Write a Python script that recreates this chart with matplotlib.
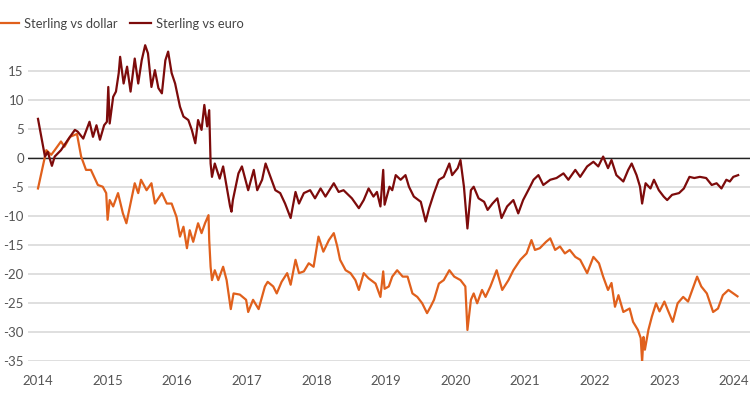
import matplotlib.pyplot as plt

# Sterling performance, % change since start of 2014
euro_year = [2014.00, 2014.10, 2014.14, 2014.20, 2014.24, 2014.33, 2014.38, 2014.43, 2014.53, 2014.57,
             2014.65, 2014.74, 2014.79, 2014.84, 2014.89, 2014.95, 2014.99, 2015.01, 2015.03, 2015.08,
             2015.12, 2015.16, 2015.18, 2015.23, 2015.28, 2015.33, 2015.39, 2015.44, 2015.49, 2015.54,
             2015.58, 2015.63, 2015.68, 2015.73, 2015.78, 2015.83, 2015.87, 2015.92, 2015.97, 2016.04,
             2016.09, 2016.16, 2016.21, 2016.26, 2016.30, 2016.35, 2016.39, 2016.43, 2016.46, 2016.48,
             2016.50, 2016.54, 2016.61, 2016.66, 2016.76, 2016.78, 2016.80, 2016.88, 2016.93, 2017.02,
             2017.10, 2017.15, 2017.22, 2017.27, 2017.34, 2017.41, 2017.48, 2017.55, 2017.63, 2017.70,
             2017.75, 2017.82, 2017.91, 2017.98, 2018.06, 2018.13, 2018.25, 2018.32, 2018.39, 2018.51,
             2018.61, 2018.68, 2018.75, 2018.82, 2018.87, 2018.92, 2018.96, 2018.98, 2019.05, 2019.09,
             2019.14, 2019.21, 2019.28, 2019.33, 2019.40, 2019.50, 2019.57, 2019.62, 2019.69, 2019.76,
             2019.83, 2019.91, 2019.95, 2020.03, 2020.07, 2020.12, 2020.17, 2020.22, 2020.26, 2020.33,
             2020.41, 2020.46, 2020.53, 2020.60, 2020.66, 2020.74, 2020.83, 2020.90, 2020.97, 2021.07,
             2021.12, 2021.19, 2021.26, 2021.36, 2021.45, 2021.55, 2021.62, 2021.72, 2021.79, 2021.89,
             2021.98, 2022.05, 2022.12, 2022.19, 2022.24, 2022.31, 2022.41, 2022.48, 2022.53, 2022.60,
             2022.65, 2022.68, 2022.73, 2022.80, 2022.85, 2022.92, 2022.99, 2023.04, 2023.11, 2023.21,
             2023.28, 2023.36, 2023.43, 2023.51, 2023.60, 2023.68, 2023.75, 2023.82, 2023.89, 2023.94,
             2023.99, 2024.06]
euro_val = [6.8, 0.3, 1.1, -1.3, 0.3, 1.4, 2.3, 3.2, 4.9, 4.6,
            3.4, 6.3, 3.7, 5.7, 3.2, 5.7, 6.3, 12.3, 6.0, 10.6,
            11.5, 14.7, 17.5, 12.9, 15.8, 11.5, 17.2, 12.9, 16.9, 19.5,
            18.1, 12.3, 15.2, 12.1, 11.2, 16.9, 18.4, 14.7, 12.9, 8.9,
            7.2, 6.6, 4.9, 2.6, 6.6, 4.9, 9.2, 5.5, 8.3, -0.9,
            -3.2, -0.9, -3.5, -1.4, -8.3, -9.2, -7.2, -2.6, -1.4, -5.5,
            -2.0, -5.5, -3.7, -0.9, -3.2, -5.5, -6.0, -7.8, -10.3, -5.8,
            -7.8, -6.0, -5.5, -6.9, -5.2, -6.6, -4.3, -5.8, -5.5, -6.9,
            -8.6, -7.2, -5.2, -6.6, -5.8, -8.3, -2.0, -8.0, -4.9, -5.5,
            -2.9, -3.7, -2.9, -4.9, -6.6, -7.5, -10.9, -8.6, -6.0, -3.7,
            -3.2, -0.9, -2.9, -1.7, -0.3, -4.9, -12.1, -5.5, -4.9, -6.9,
            -7.5, -8.9, -7.8, -6.9, -10.3, -8.3, -7.2, -9.5, -7.2, -4.9,
            -3.7, -2.9, -4.6, -3.7, -3.4, -2.6, -3.7, -2.0, -3.2, -1.4,
            -0.6, -1.4, 0.3, -1.7, -0.3, -2.9, -4.0, -2.0, -0.9, -2.9,
            -4.9, -7.8, -4.3, -5.2, -3.7, -5.5, -6.6, -7.2, -6.3, -6.0,
            -5.2, -3.2, -3.4, -3.2, -3.4, -4.6, -4.3, -5.2, -3.7, -4.0,
            -3.2, -2.9]

dollar_year = [2014.00, 2014.12, 2014.19, 2014.24, 2014.33, 2014.38, 2014.46, 2014.56, 2014.62, 2014.69,
               2014.76, 2014.86, 2014.93, 2014.98, 2015.00, 2015.03, 2015.08, 2015.15, 2015.22, 2015.27,
               2015.34, 2015.39, 2015.44, 2015.48, 2015.56, 2015.63, 2015.68, 2015.78, 2015.85, 2015.92,
               2015.99, 2016.04, 2016.09, 2016.14, 2016.18, 2016.23, 2016.30, 2016.35, 2016.40, 2016.45,
               2016.46, 2016.48, 2016.50, 2016.54, 2016.59, 2016.66, 2016.71, 2016.77, 2016.81, 2016.90,
               2016.99, 2017.02, 2017.09, 2017.17, 2017.26, 2017.30, 2017.38, 2017.43, 2017.50, 2017.58,
               2017.63, 2017.70, 2017.75, 2017.82, 2017.89, 2017.96, 2018.03, 2018.10, 2018.18, 2018.25,
               2018.30, 2018.34, 2018.42, 2018.49, 2018.56, 2018.61, 2018.68, 2018.75, 2018.85, 2018.92,
               2018.96, 2018.98, 2019.04, 2019.09, 2019.16, 2019.24, 2019.31, 2019.38, 2019.45, 2019.52,
               2019.59, 2019.64, 2019.69, 2019.76, 2019.83, 2019.91, 2019.98, 2020.07, 2020.14, 2020.17,
               2020.22, 2020.26, 2020.31, 2020.38, 2020.43, 2020.50, 2020.59, 2020.67, 2020.76, 2020.83,
               2020.93, 2021.02, 2021.09, 2021.14, 2021.21, 2021.30, 2021.36, 2021.43, 2021.50, 2021.57,
               2021.64, 2021.72, 2021.79, 2021.89, 2021.98, 2022.06, 2022.12, 2022.19, 2022.24, 2022.29,
               2022.34, 2022.41, 2022.50, 2022.55, 2022.62, 2022.66, 2022.68, 2022.70, 2022.72, 2022.77,
               2022.82, 2022.88, 2022.93, 2023.00, 2023.05, 2023.12, 2023.19, 2023.27, 2023.34, 2023.41,
               2023.47, 2023.53, 2023.61, 2023.70, 2023.77, 2023.84, 2023.92, 2023.99, 2024.05]
dollar_val = [-5.2, 1.4, 0.6, 1.4, 2.9, 2.0, 3.7, 4.2, 0.3, -2.0,
              -2.0, -4.6, -4.9, -6.0, -10.6, -7.2, -8.3, -6.0, -9.5, -11.2,
              -7.2, -4.3, -6.0, -3.7, -5.5, -4.3, -7.8, -6.0, -7.8, -7.8,
              -10.1, -13.5, -11.8, -15.5, -12.4, -14.4, -11.2, -12.9, -11.2, -9.8,
              -14.1, -18.7, -21.0, -19.3, -21.0, -18.7, -21.0, -26.0, -23.3, -23.5,
              -24.4, -26.5, -24.4, -26.0, -22.1, -21.3, -22.1, -23.3, -21.3, -19.8,
              -21.8, -17.5, -19.8, -19.5, -18.1, -18.7, -13.5, -16.1, -14.1, -12.9,
              -15.2, -17.5, -19.3, -19.8, -21.0, -22.7, -19.8, -20.7, -21.6, -23.9,
              -19.5, -22.5, -22.1, -20.4, -19.3, -20.4, -20.4, -23.3, -23.9, -25.0,
              -26.7, -25.6, -24.4, -21.6, -21.0, -19.3, -20.4, -21.0, -22.1, -29.6,
              -24.4, -23.3, -25.0, -22.7, -23.9, -22.1, -19.3, -22.7, -21.0, -19.3,
              -17.5, -16.4, -14.1, -15.8, -15.5, -14.4, -13.8, -15.8, -15.2, -16.4,
              -15.8, -17.0, -17.5, -19.8, -17.0, -18.1, -20.4, -22.7, -21.5, -25.6,
              -23.6, -26.5, -25.9, -28.2, -29.6, -31.0, -35.1, -30.8, -33.0, -29.6,
              -27.3, -25.0, -26.4, -24.7, -26.2, -28.2, -25.0, -23.9, -24.7, -22.4,
              -20.4, -22.1, -23.3, -26.5, -25.9, -23.6, -22.7, -23.3, -23.8]

years = list(range(2014, 2025))
yticks = list(range(-35, 20, 5))

orange = "#e0601c"
maroon = "#7d0b0b"

plt.rcParams['font.family'] = ['Lato', 'DejaVu Sans']
plt.rcParams['axes.unicode_minus'] = False

fig = plt.figure(figsize=(7.5, 4.03), dpi=100)
ax = fig.add_axes([0.0373, 0.1035, 0.9627, 0.7915])

ax.plot(dollar_year, dollar_val, color=orange, lw=1.6, label="Sterling vs dollar", zorder=3)
ax.plot(euro_year, euro_val, color=maroon, lw=1.6, label="Sterling vs euro", zorder=4)

ax.set_xlim(2013.856, 2024.23)
ax.set_ylim(-35, 20)
ax.set_yticks(yticks)
ax.set_xticks(years)
ax.set_xticklabels([str(y) for y in years])
ax.grid(axis='y', color='#d6d6d6', lw=1.1, zorder=0)
ax.axhline(0, color='#222222', lw=1.0, zorder=2)
for s in ax.spines.values():
    s.set_visible(False)
ax.tick_params(length=0, labelsize=9.5, colors='#555555')
ax.tick_params(axis='y', pad=3)
ax.tick_params(axis='x', pad=10)

fig.legend(loc='upper left', bbox_to_anchor=(-0.018, 0.985), ncol=2, frameon=False,
           handlelength=1.6, handletextpad=0.4, columnspacing=1.0, fontsize=9.3,
           labelcolor='#444444')

fig.savefig("out.png", dpi=100)
